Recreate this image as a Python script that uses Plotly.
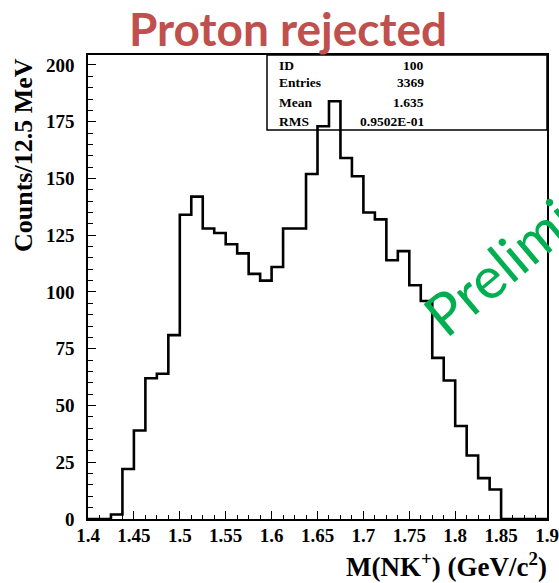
import numpy as np
import plotly.graph_objects as go

# Histogram of M(NK+) : 40 bins of 12.5 MeV from 1.4 to 1.9 GeV/c^2
bin_start = 1.4
bin_width = 0.0125
counts = [0, 0, 2, 22, 39, 62, 64, 81,
          134, 142, 128, 126, 121, 117, 108, 105,
          111, 128, 128, 152, 173, 184, 159, 151,
          135, 132, 114, 118, 103, 96, 71, 61,
          41, 28, 18, 13, 0, 0, 0, 0]

# Statistics box
stat_names = ["ID", "Entries", "Mean", "RMS"]
stat_values = ["100", "3369", "1.635", "0.9502E-01"]

edges = bin_start + bin_width * np.arange(len(counts) + 1)
step_y = list(counts) + [counts[-1]]

W, H = 559, 583
L, R, T, B = 88, 12, 55, 64
plot_w = W - L - R
plot_h = H - T - B
y_top = 204.4


def px(xpix):
    return (xpix - L) / plot_w


def py(ypix):
    return (H - B - ypix) / plot_h


serif = "Liberation Serif"

fig = go.Figure()

fig.add_trace(go.Scatter(
    x=edges, y=step_y, mode="lines", line_shape="hv",
    line=dict(color="black", width=2.6), hoverinfo="skip", showlegend=False,
))

# stats box frame
fig.add_shape(type="rect", xref="paper", yref="paper",
              x0=px(267), x1=1.0, y0=py(130), y1=1.0,
              line=dict(color="black", width=1.5), layer="below")

row_y = [65, 83, 102, 121]
for name, val, yy in zip(stat_names, stat_values, row_y):
    fig.add_annotation(x=px(277), y=py(yy), xref="paper", yref="paper",
                       text=name, showarrow=False, xanchor="left", yanchor="middle",
                       font=dict(family=serif, size=13.5, color="black", weight="bold"))
    fig.add_annotation(x=px(426), y=py(yy), xref="paper", yref="paper",
                       text=val, showarrow=False, xanchor="right", yanchor="middle",
                       font=dict(family=serif, size=13.5, color="black", weight="bold"))

# axis titles
fig.add_annotation(x=px(23), y=py(155), xref="paper", yref="paper",
                   text="Counts/12.5 MeV", showarrow=False, textangle=-90,
                   xanchor="center", yanchor="middle",
                   font=dict(family=serif, size=26, color="black", weight="bold"))
fig.add_annotation(x=px(549), y=py(565), xref="paper", yref="paper",
                   text="M(NK<sup>+</sup>) (GeV/c<sup>2</sup>)", showarrow=False,
                   xanchor="right", yanchor="middle",
                   font=dict(family=serif, size=27, color="black", weight="bold"))

# headline
fig.add_annotation(x=px(288), y=py(28), xref="paper", yref="paper",
                   text="Proton rejected", showarrow=False,
                   xanchor="center", yanchor="middle",
                   font=dict(family="Lato", size=46, color="#C0504D", weight="bold"))

# watermark
fig.add_annotation(x=px(541), y=py(230), xref="paper", yref="paper",
                   text="Preliminary", showarrow=False, textangle=-40,
                   xanchor="center", yanchor="middle",
                   font=dict(family="Lato", size=58, color="#00B050"))

axis_common = dict(
    showgrid=False, zeroline=False, showline=True, mirror=True,
    linecolor="black", linewidth=1.5, automargin=False,
    ticks="inside", ticklen=8, tickwidth=1.3, tickcolor="black",
    tickfont=dict(family=serif, size=19, color="black", weight="bold"),
)

fig.update_xaxes(range=[1.4, 1.9], tick0=1.4, dtick=0.05,
                 minor=dict(dtick=bin_width, ticks="inside", ticklen=4,
                            tickwidth=1.2, tickcolor="black"),
                 ticklabelstandoff=-2, **axis_common)
fig.update_yaxes(range=[0, y_top], tick0=0, dtick=25,
                 minor=dict(dtick=5, ticks="inside", ticklen=5,
                            tickwidth=1.2, tickcolor="black"),
                 ticklabelstandoff=8, **axis_common)

fig.update_layout(
    width=W, height=H,
    margin=dict(l=L, r=R, t=T, b=B, pad=0, autoexpand=False),
    paper_bgcolor="white", plot_bgcolor="white",
    showlegend=False,
)

fig.write_html("out.html")
